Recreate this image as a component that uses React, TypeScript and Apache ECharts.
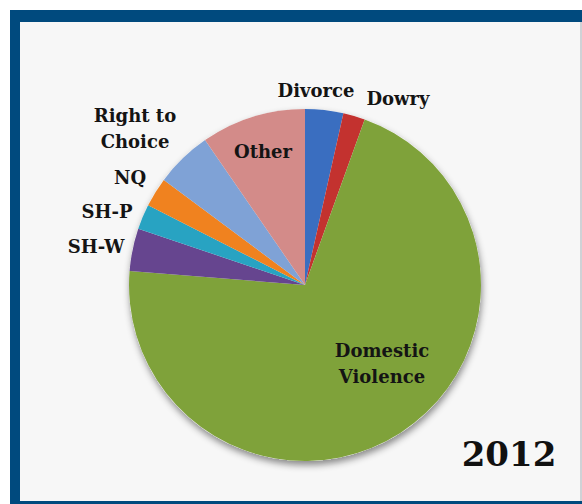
import React, { useEffect, useRef } from "react";
import * as echarts from "echarts";

const categories = ["Divorce", "Dowry", "Domestic Violence", "SH-W", "SH-P", "NQ", "Right to Choice", "Other"];
const values = [3.5, 2.0, 70.7, 3.9, 2.3, 2.7, 5.2, 9.6];
const labelTexts = ["Divorce", "Dowry", "Domestic\nViolence", "SH-W", "SH-P", "NQ", "Right to\nChoice", "Other"];
const colors = ["#3a6ec0", "#c3322f", "#7fa23a", "#66458f", "#28a3c2", "#f0821f", "#7fa2d6", "#d38b89"];
const yearLabel = "2012";

// label centres in chart pixels
const labelPos: [number, number][] = [
  [316, 90],
  [398, 98],
  [382, 363],
  [96, 246],
  [107, 211],
  [130, 177],
  [135, 128],
  [263, 151],
];

export default function App() {
  const ref = useRef<HTMLDivElement>(null);
  useEffect(() => {
    document.body.style.margin = "0";
    const chart = echarts.init(ref.current!, undefined, { renderer: "svg" });
    const font = "'DejaVu Serif', serif";
    chart.setOption({
      animation: false,
      backgroundColor: "#ffffff",
      graphic: [
        { type: "rect", shape: { x: 10, y: 10, width: 580, height: 500 }, style: { fill: "#004a7e" }, z: -10 },
        { type: "rect", shape: { x: 20, y: 22, width: 560, height: 479 }, style: { fill: "#f7f7f7" }, z: -9 },
        { type: "rect", shape: { x: 580, y: 22, width: 2, height: 479 }, style: { fill: "#cfd2d6" }, z: -9 },
        {
          type: "text",
          x: 509,
          y: 454,
          style: {
            text: yearLabel,
            font: "bold 34px 'DejaVu Serif', serif",
            fill: "#111111",
            align: "center",
            verticalAlign: "middle",
          },
          z: 10,
        },
      ],
      series: [
        {
          type: "pie",
          silent: true,
          center: [305, 285],
          radius: 176,
          data: [{ value: 1, name: "shadow" }],
          itemStyle: {
            color: "#f7f7f7",
            shadowBlur: 7,
            shadowOffsetY: 4,
            shadowOffsetX: 1,
            shadowColor: "rgba(0,0,0,0.45)",
          },
          label: { show: false },
          labelLine: { show: false },
          z: 1,
        },
        {
          type: "pie",
          center: [305, 285],
          radius: 176,
          startAngle: 90,
          clockwise: true,
          avoidLabelOverlap: false,
          data: categories.map((c, i) => ({
            name: c,
            value: values[i],
            itemStyle: { color: colors[i] },
          })),
          label: {
            show: true,
            position: "outside",
            formatter: (p: any) => labelTexts[p.dataIndex],
            fontFamily: font,
            fontWeight: "bold",
            fontSize: 18,
            lineHeight: 26,
            color: "#141414",
            align: "center",
          },
          labelLine: { show: false },
          labelLayout: (p: any) => ({
            x: labelPos[p.dataIndex][0],
            y: labelPos[p.dataIndex][1],
            align: "center",
            verticalAlign: "middle",
          }),
          itemStyle: { borderWidth: 0 },
          emphasis: { disabled: true },
          z: 2,
        },
      ],
    });
    return () => chart.dispose();
  }, []);
  return <div ref={ref} style={{ width: 582, height: 504 }} />;
}
